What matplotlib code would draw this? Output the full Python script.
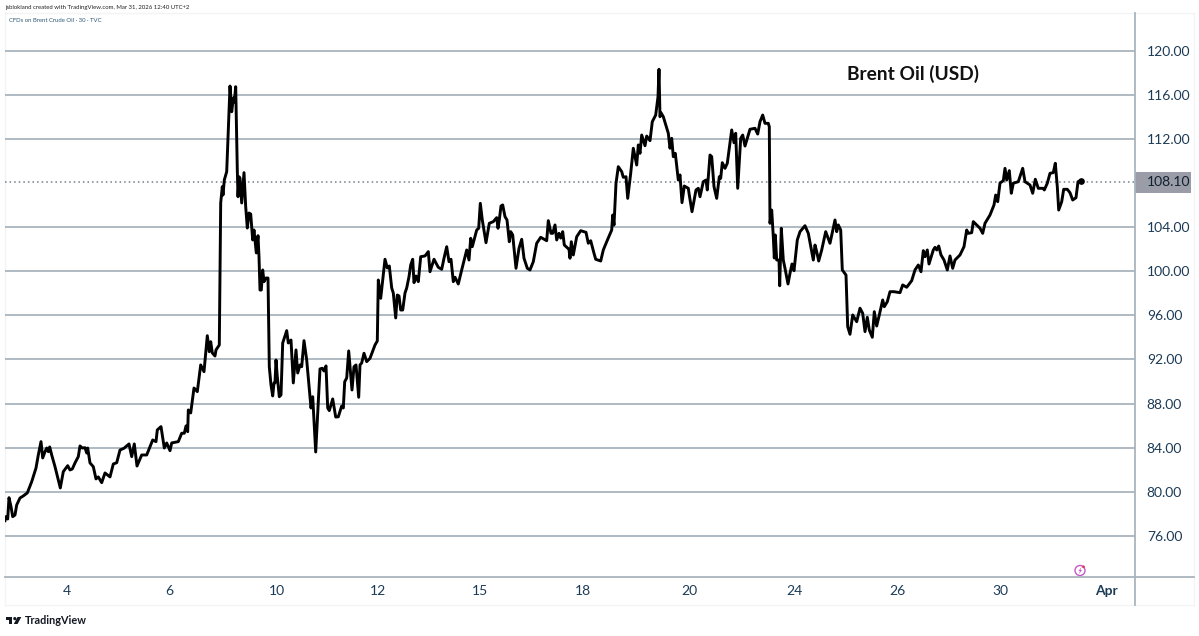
import matplotlib

matplotlib.use("Agg")
import matplotlib.pyplot as plt
from matplotlib.lines import Line2D
from matplotlib.patches import Circle, Polygon, Rectangle
from matplotlib.transforms import IdentityTransform

W, H = 1199, 636

# x runs along the chart's time axis, prices are in USD
bar_pos = [
    5, 6, 7.7, 9, 11, 12.7, 15, 16.7, 20, 23.3, 27.3, 31.7, 36, 38.3, 41, 42.7, 45, 46.7, 48.3, 49.7,
    51.7, 55, 58.3, 60.3, 63.3, 67.7, 70, 72.3, 75, 78.3, 80, 82.3, 85, 86.7, 87.7, 90, 93.3, 96, 98.3, 101.7,
    105, 110, 113.3, 116.7, 120, 124, 129, 131.7, 134.3, 137, 141.7, 146.7, 150, 152.7, 156, 157.3, 161, 164.3, 166.7, 170,
    171.7, 178.3, 181.7, 184.3, 186, 187.7, 188.3, 190.7, 194, 197.3, 200.7, 204, 207.3, 209.3, 210.7, 212.3, 215, 216, 219.3, 220,
    220.7, 222.3, 223, 224.3, 226.7, 228.3, 230, 231.7, 233.3, 234.3, 235.7, 237.3, 238, 239, 240, 241.7, 244, 245.7, 247.3, 249,
    250.7, 252.7, 254, 256.3, 258, 259, 260, 261.3, 262.7, 264, 266, 268, 269.3, 271, 272.7, 274, 275, 276, 277.3, 279.3,
    281, 282.7, 284.3, 286.7, 288.3, 291, 293.3, 296, 297.7, 300, 301.7, 304, 306.7, 311, 312.7, 315.7, 317.7, 320, 322.3, 324,
    326, 327.7, 329.3, 332.7, 335.7, 338.3, 341.7, 343.3, 344.7, 346.7, 348.7, 352, 354, 356, 358.7, 360, 361.7, 364, 366.7, 370,
    375, 377.3, 378.3, 380.7, 385, 387.3, 389.3, 391.7, 393.3, 395.7, 397.3, 399, 400.7, 402.7, 405, 406.7, 409, 410.7, 412.7, 414,
    416, 418.3, 420.7, 425, 428.3, 430, 434, 438.3, 441.7, 444, 446.7, 449, 451, 453.3, 455, 458.3, 461.7, 466.7, 469, 470.7,
    472.3, 476.7, 478.7, 480.3, 482.3, 486, 489.3, 493.3, 496.7, 498, 499.3, 501, 502.7, 505, 507, 509.3, 510.7, 512.7, 516, 519,
    521.7, 524, 527.3, 530, 533.3, 536.7, 540.7, 546.7, 548.3, 551, 552.7, 555, 556.7, 559, 560.7, 562.7, 564.3, 569, 570, 571.3,
    573.3, 576.7, 580.7, 586, 588.3, 590.7, 594, 595.7, 600.7, 603.3, 606.7, 611.7, 612.7, 614, 616, 618.3, 621.7, 623.3, 626, 627.7,
    630.7, 633.3, 636.7, 638.3, 640, 641.7, 645, 646.7, 650, 652.3, 655.7, 658, 659, 660, 661, 663.3, 668.3, 670, 671.7, 673.3,
    675.3, 678.3, 680, 682, 684.3, 688.3, 689.3, 692, 696, 698.3, 700, 703.3, 706, 707.3, 710, 711.7, 714, 716.7, 719.3, 720.7,
    722.3, 725, 727.3, 731.7, 734, 735.7, 737.7, 740.7, 742.7, 745, 750, 755, 757.7, 760, 762.7, 765, 768.3, 769.3, 770, 771.7,
    773.3, 774.3, 775.3, 776.7, 779, 779.7, 781.3, 783.3, 785, 788, 790, 792, 794, 797.3, 800, 805, 808.3, 813.3, 815, 816.7,
    818.7, 821.7, 825.7, 830, 835, 836.7, 838.3, 840.7, 842.3, 846, 847.7, 850, 852.7, 856.7, 860, 862.7, 865, 867.3, 869.3, 872.3,
    874.3, 876.7, 879.3, 882.7, 884.3, 887.3, 890, 894, 900, 902.7, 906.7, 911.7, 915, 918.3, 921, 923.3, 925, 927.3, 929, 933.3,
    935, 936.7, 938.7, 941, 944, 947.3, 950, 952.7, 955, 960, 964, 966.7, 968.3, 971.7, 973.3, 976.7, 980, 982.7, 985, 990,
    994, 995.7, 997.7, 1000, 1003.3, 1005, 1006.7, 1009.3, 1011.3, 1013.3, 1018.3, 1022.7, 1025, 1030, 1032.7, 1035.3, 1038.3, 1043, 1044.3, 1047.3,
    1050, 1053.3, 1055.3, 1057.3, 1058.7, 1061.7, 1063.7, 1067.3, 1070, 1072.7, 1076, 1078, 1080.7, 1082.3,
]
close = [
    77.39, 77.75, 77.54, 79.47, 78.66, 77.75, 77.90, 78.81, 79.44, 79.63, 79.90, 80.92, 82.16, 83.34, 84.55, 83.07, 83.64, 83.97, 83.64, 84.07,
    83.34, 82.28, 81.07, 80.35, 81.83, 82.37, 81.98, 82.07, 82.62, 83.19, 84.16, 83.97, 84.00, 83.52, 83.97, 82.62, 82.28, 81.17, 81.35, 80.83,
    81.71, 81.35, 82.52, 82.64, 83.79, 83.95, 84.34, 83.19, 84.34, 82.34, 83.34, 83.34, 84.09, 84.70, 84.55, 85.61, 85.91, 83.97, 84.43, 83.73,
    84.43, 84.55, 85.31, 85.31, 85.97, 85.45, 87.42, 87.15, 89.41, 89.08, 91.50, 90.89, 94.15, 92.70, 93.61, 92.59, 92.31, 92.86, 93.31, 100.11,
    106.18, 107.66, 106.90, 108.26, 109.02, 112.80, 116.78, 114.45, 115.70, 115.33, 116.72, 109.17, 106.75, 108.56, 108.44, 106.18, 108.93, 105.84, 103.91, 105.27,
    105.18, 102.83, 103.73, 101.65, 103.22, 101.31, 98.29, 98.29, 100.11, 99.05, 99.38, 99.38, 91.34, 89.68, 88.69, 89.87, 89.87, 91.95, 90.44, 88.62,
    88.78, 93.49, 93.94, 94.61, 93.49, 93.76, 89.87, 92.86, 90.77, 91.50, 91.34, 93.70, 91.95, 87.60, 88.62, 83.61, 87.15, 91.14, 91.20, 90.95,
    91.41, 87.60, 87.36, 88.42, 86.78, 86.80, 87.78, 87.60, 89.98, 90.32, 92.77, 89.23, 91.34, 91.50, 88.57, 91.50, 91.68, 92.56, 91.80, 92.10,
    93.31, 93.67, 99.20, 97.54, 101.08, 100.29, 100.47, 98.48, 98.02, 95.76, 97.84, 97.75, 96.48, 96.48, 98.02, 98.48, 99.50, 100.56, 101.08, 98.96,
    99.56, 99.05, 101.31, 101.38, 101.77, 99.95, 101.08, 100.35, 100.17, 101.17, 102.22, 100.86, 101.08, 99.05, 99.45, 98.84, 100.11, 101.92, 101.01, 102.98,
    102.22, 103.73, 103.89, 106.15, 104.64, 102.58, 104.34, 104.49, 104.85, 103.89, 104.64, 105.91, 106.00, 104.94, 104.64, 102.67, 103.58, 103.28, 100.26, 102.07,
    102.89, 101.17, 100.26, 100.11, 100.86, 102.53, 103.07, 102.76, 104.58, 103.43, 103.43, 104.19, 102.83, 103.43, 103.00, 103.58, 102.37, 101.98, 101.17, 102.67,
    101.47, 103.12, 103.67, 103.52, 102.53, 102.76, 101.62, 101.08, 100.92, 101.92, 102.67, 103.73, 105.09, 104.18, 107.96, 109.47, 109.02, 108.51, 108.56, 106.60,
    108.87, 111.14, 109.62, 111.44, 110.68, 112.34, 111.37, 112.25, 111.83, 113.55, 114.15, 115.81, 118.30, 114.00, 114.36, 114.00, 112.50, 111.14, 112.04, 110.38,
    110.68, 108.26, 108.72, 106.21, 107.72, 107.51, 106.90, 105.39, 107.36, 107.51, 106.75, 108.11, 108.26, 107.36, 110.53, 110.38, 107.66, 106.60, 108.56, 108.42,
    109.83, 109.32, 109.78, 112.80, 111.64, 112.50, 107.51, 112.04, 112.34, 111.34, 112.86, 112.95, 112.43, 113.55, 114.15, 113.40, 113.40, 113.09, 104.34, 105.54,
    103.12, 101.19, 103.28, 101.01, 101.01, 98.68, 103.89, 101.01, 100.26, 98.84, 99.81, 100.65, 100.04, 102.83, 103.58, 104.12, 103.43, 101.01, 102.37, 101.77,
    100.92, 101.92, 103.58, 102.53, 104.64, 103.58, 104.19, 103.73, 100.11, 99.65, 94.97, 94.28, 96.03, 95.42, 96.64, 96.18, 94.52, 95.82, 94.67, 94.01,
    96.33, 95.03, 96.03, 97.39, 96.78, 97.23, 98.14, 98.14, 98.05, 98.75, 98.54, 99.14, 100.11, 100.56, 99.95, 101.86, 101.31, 101.92, 100.65, 101.92,
    102.16, 101.92, 102.28, 101.47, 101.01, 100.11, 101.38, 100.26, 101.01, 101.47, 102.22, 103.73, 103.43, 103.49, 104.49, 104.19, 103.89, 103.43, 104.34, 105.09,
    106.00, 106.90, 106.30, 107.99, 108.20, 109.32, 108.26, 109.11, 107.06, 107.97, 108.11, 109.32, 108.11, 107.81, 107.06, 108.33, 107.51, 107.51, 107.36, 107.97,
    108.87, 108.93, 109.78, 107.66, 105.54, 106.30, 107.42, 107.42, 107.11, 106.45, 106.66, 108.11, 108.20, 108.05,
]

last_price = 108.10
price_ticks = [76, 80, 84, 88, 92, 96, 100, 104, 112, 116, 120]
date_pos = [67, 169, 277, 378, 480, 583, 689, 794, 897, 1000, 1106]
date_labels = ["4", "6", "10", "12", "15", "18", "20", "24", "26", "30", "Apr"]

GRID = "#a8b4be"
TEXT = "#1c3b57"


def px(x, y):
    # reference pixel -> figure fraction
    return x / W, 1 - y / H


def dot(x, y, r, **kw):
    # round mark placed in pixels, so it stays a circle
    fig.add_artist(Circle((x, H - y), r, transform=IdentityTransform(), **kw))


fig = plt.figure(figsize=(W / 100, H / 100), dpi=100, facecolor="white")
ax = fig.add_axes([5 / W, 1 - 577 / H, 1130 / W, 564 / H])
ax.set_xlim(5, 1135)
ax.set_ylim(72.28, 123.4)

for spine in ax.spines.values():
    spine.set_visible(False)

for p in price_ticks:
    ax.axhline(p, color=GRID, lw=1.3, zorder=1)
ax.axhline(last_price, color="#6f7f8c", lw=1.1, ls=(0, (1, 2)), zorder=1)
ax.plot(bar_pos, close, color="black", lw=2.1, solid_joinstyle="round", zorder=3)
ax.plot(bar_pos[-2], close[-2], "o", color="black", ms=3.8, zorder=3)

ax.yaxis.tick_right()
ax.set_yticks(price_ticks)
ax.set_yticklabels([f"{p:.2f}" for p in price_ticks], fontfamily="Lato", fontsize=10, color=TEXT)
ax.set_xticks(date_pos)
ax.set_xticklabels(date_labels, fontfamily="Lato", fontsize=10, color=TEXT)
ax.tick_params(axis="both", length=0)
ax.tick_params(axis="y", pad=8.5)
ax.tick_params(axis="x", pad=5.5)
ax.get_xticklabels()[-1].set_fontweight("bold")

# last price tag on the scale
ax.annotate(
    f"{last_price:.2f}",
    xy=(1, last_price),
    xycoords=("axes fraction", "data"),
    xytext=(8.5, 0),
    textcoords="offset points",
    va="center",
    fontfamily="Lato",
    fontsize=10,
    color="#10202e",
    zorder=6,
)
fig.add_artist(Rectangle(px(1135, 193), 56 / W, 21 / H, transform=fig.transFigure, color="#9a9ca8", lw=0, zorder=0.5))
ax.set_zorder(2)
ax.patch.set_alpha(0)

# frame of the chart
frame = "#f3f4f5"
for a, b in [((5, 13), (1194, 13)), ((5, 13), (5, 605)), ((1194, 13), (1194, 605)), ((5, 605), (1194, 605))]:
    fig.add_artist(Line2D(*zip(px(*a), px(*b)), color=frame, lw=1))
fig.add_artist(Line2D(*zip(px(5, 577), px(1194, 577)), color=GRID, lw=1.3))
fig.add_artist(Line2D(*zip(px(1135, 13), px(1135, 605)), color=GRID, lw=1.3))

fig.text(*px(5, 7.5), "jsblokland created with TradingView.com, Mar 31, 2026 12:40 UTC+2",
         fontfamily="Lato", fontsize=4.3, color="#222222", va="center")
fig.text(*px(9, 20.5), "CFDs on Brent Crude Oil · 30 · TVC",
         fontfamily="Lato", fontsize=4.3, color="#2f5a78", va="center")
fig.text(*px(847, 74), "Brent Oil (USD)", fontfamily="Lato", fontweight="bold",
         fontsize=13.8, color="#111111", va="center")

# flash icon near the bottom
dot(1080, 570.5, 5, fill=False, ec="#c659c9", lw=1)
fig.add_artist(Polygon([px(1081.5, 567), px(1078.5, 571), px(1080, 571), px(1079, 574), px(1082, 570), px(1080.5, 570)],
                       closed=True, transform=fig.transFigure, color="#c659c9", lw=0))
dot(1083.5, 566.8, 1.4, color="#e8345f", lw=0)

# TradingView logo
logo = "#131722"
for pts in [
    [(6, 617), (12.5, 617), (12.5, 624), (9.3, 624), (9.3, 620), (6, 620)],
    [(17.5, 617), (21.3, 617), (17.5, 624), (13.8, 624)],
]:
    fig.add_artist(Polygon([px(*p) for p in pts], closed=True, transform=fig.transFigure, color=logo, lw=0))
dot(14.8, 618.6, 1.6, color=logo, lw=0)
fig.text(*px(25, 620.5), "TradingView", fontfamily="Lato", fontweight="bold", fontsize=7.8, color=logo, va="center")

fig.savefig("out.png", dpi=100)
